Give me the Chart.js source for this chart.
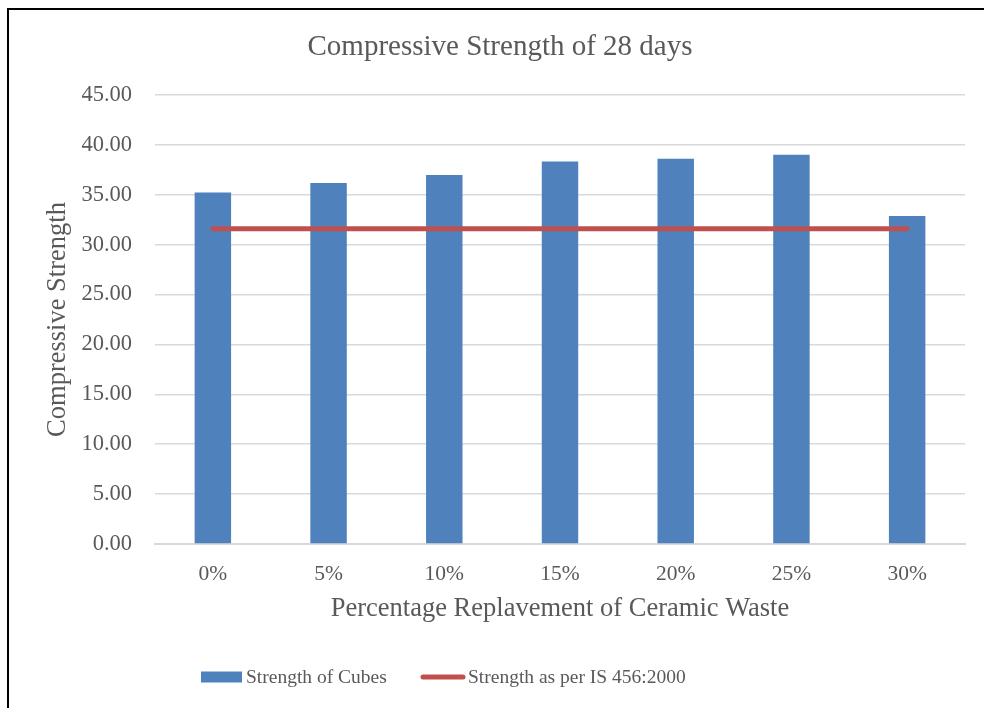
<!DOCTYPE html>
<html>
<head>
<meta charset="utf-8">
<title>Compressive Strength of 28 days</title>
<script src="https://cdn.jsdelivr.net/npm/chart.js@4.4.1/dist/chart.umd.min.js"></script>
<style>
  html, body { margin: 0; padding: 0; background: #ffffff; }
  #wrap { position: relative; width: 984px; height: 708px; overflow: hidden; }
  #frame {
    position: absolute; left: 7px; top: 8px; width: 1200px; height: 900px;
    border-top: 2px solid #000; border-left: 2px solid #000; pointer-events: none;
  }
  canvas { position: absolute; left: 0; top: 0; }
</style>
</head>
<body>
<div id="wrap">
  <canvas id="chart" width="984" height="708"></canvas>
  <div id="frame"></div>
</div>
<script>
// Replacement levels of ceramic waste
const categories = ['0%', '5%', '10%', '15%', '20%', '25%', '30%'];
// 28-day compressive strength of cubes
const cubeStrength = [35.23, 36.17, 36.97, 38.33, 38.60, 39.00, 32.87];
// Target strength per IS 456:2000
const codeStrength = [31.6, 31.6, 31.6, 31.6, 31.6, 31.6, 31.6];
// Value axis ticks
const yTicks = [0, 5, 10, 15, 20, 25, 30, 35, 40, 45];

const chartTitle = 'Compressive Strength of 28 days';
const seriesNames = ['Strength of Cubes', 'Strength as per IS 456:2000'];
const BLUE = '#4F81BD';
const RED = '#C0504D';
const TEXT = '#595959';
const FONT = "'Liberation Serif', 'Times New Roman', serif";

// Chart title, centred over the chart body
const topTitle = {
  id: 'topTitle',
  afterDraw(chart) {
    const ctx = chart.ctx;
    ctx.save();
    ctx.font = '29px ' + FONT;
    ctx.fillStyle = TEXT;
    ctx.textAlign = 'center';
    ctx.textBaseline = 'middle';
    ctx.fillText(chartTitle, 500, 47);
    ctx.restore();
  }
};

// Legend under the plot: bar swatch and line swatch with labels
const bottomLegend = {
  id: 'bottomLegend',
  afterDraw(chart) {
    const ctx = chart.ctx;
    const ds = chart.data.datasets;
    const bar = ds.find(d => d.type === 'bar');
    const line = ds.find(d => d.type === 'line');
    const cy = 677;
    ctx.save();
    ctx.font = '19.5px ' + FONT;
    ctx.textBaseline = 'middle';
    ctx.textAlign = 'left';
    ctx.fillStyle = bar.backgroundColor;
    ctx.fillRect(201, cy - 5.5, 41, 11);
    ctx.fillStyle = TEXT;
    ctx.fillText(bar.label, 246, cy + 1);
    ctx.strokeStyle = line.borderColor;
    ctx.lineWidth = 5;
    ctx.lineCap = 'round';
    ctx.beginPath();
    ctx.moveTo(423, cy);
    ctx.lineTo(463, cy);
    ctx.stroke();
    ctx.fillText(line.label, 468, cy + 1);
    ctx.restore();
  }
};

new Chart(document.getElementById('chart'), {
  data: {
    labels: categories,
    datasets: [
      {
        type: 'line',
        label: seriesNames[1],
        data: codeStrength,
        borderColor: RED,
        backgroundColor: RED,
        borderWidth: 5,
        borderCapStyle: 'round',
        pointRadius: 0,
        pointHoverRadius: 0,
        fill: false,
        order: 0
      },
      {
        type: 'bar',
        label: seriesNames[0],
        data: cubeStrength,
        backgroundColor: BLUE,
        borderWidth: 0,
        categoryPercentage: 1,
        barPercentage: 0.315,
        order: 1
      }
    ]
  },
  options: {
    responsive: false,
    animation: false,
    layout: { padding: { left: 0, right: 19, top: 95, bottom: 68 } },
    plugins: {
      legend: { display: false },
      tooltip: { enabled: false },
      title: { display: false }
    },
    scales: {
      x: {
        grid: { display: false, drawTicks: false },
        border: { display: true, color: '#D9D9D9', width: 2 },
        ticks: {
          color: TEXT,
          font: { family: FONT, size: 21.5 },
          padding: 17,
          maxRotation: 0
        },
        title: {
          display: true,
          text: 'Percentage Replavement of Ceramic Waste',
          color: TEXT,
          font: { family: FONT, size: 26.5 },
          padding: { top: 0, bottom: 15 }
        },
        afterFit(scale) { scale.height = 96; }
      },
      y: {
        min: 0,
        max: 45,
        afterBuildTicks(scale) { scale.ticks = yTicks.map(v => ({ value: v })); },
        grid: { color: '#D9D9D9', lineWidth: 1.5, drawTicks: false },
        border: { display: false },
        ticks: {
          color: TEXT,
          font: { family: FONT, size: 22.5 },
          padding: 23,
          callback: v => Number(v).toFixed(2)
        },
        title: {
          display: true,
          text: 'Compressive Strength',
          color: TEXT,
          font: { family: FONT, size: 26.5 },
          padding: { top: 42, bottom: 0 }
        },
        afterFit(scale) { scale.width = 155; }
      }
    }
  },
  plugins: [topTitle, bottomLegend]
});
</script>
</body>
</html>
